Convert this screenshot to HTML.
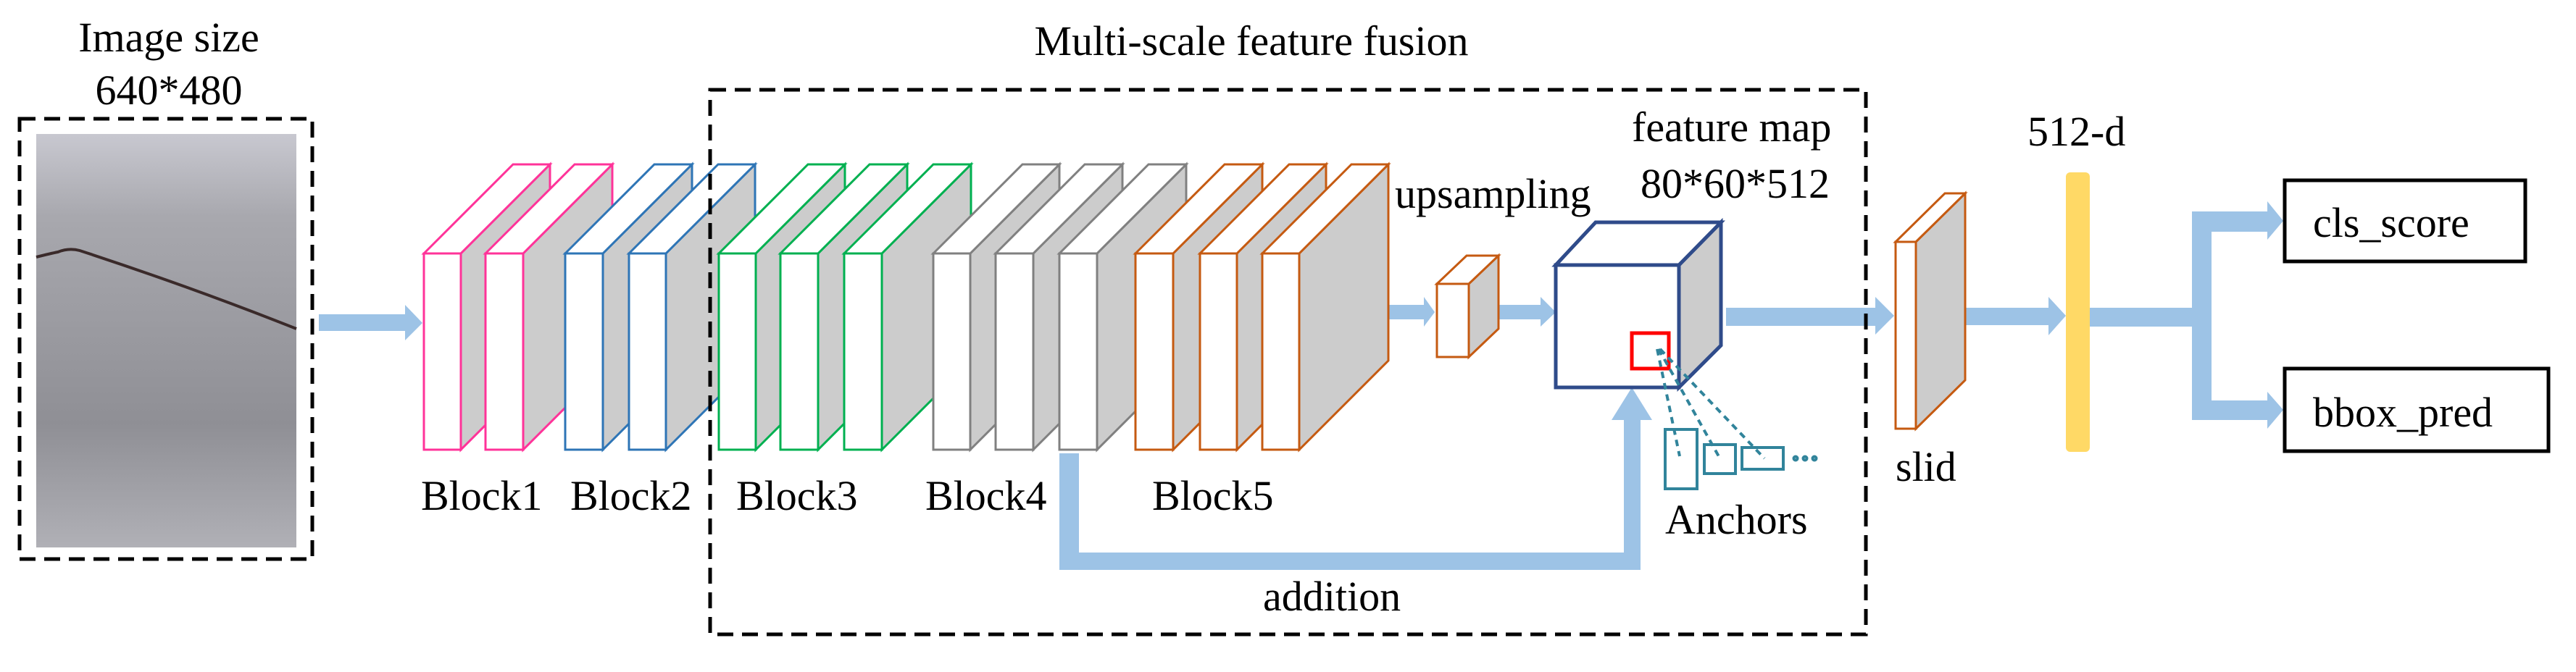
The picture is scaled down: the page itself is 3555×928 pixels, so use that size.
<!DOCTYPE html>
<html><head><meta charset="utf-8"><style>html,body{margin:0;padding:0;background:#fff}svg{display:block}svg text{font-family:"Liberation Serif","Times New Roman",serif !important;font-size:58px;fill:#000}</style></head><body>
<svg width="3555" height="928" viewBox="0 0 3555 928" xmlns="http://www.w3.org/2000/svg" font-family="Liberation Serif, Times New Roman, serif">
<defs>
<linearGradient id="g" x1="0" y1="0" x2="0" y2="1">
<stop offset="0" stop-color="#c8c8d0"/><stop offset="0.2" stop-color="#a8a8ae"/><stop offset="0.7" stop-color="#8f8f95"/><stop offset="1" stop-color="#b0b0b6"/></linearGradient>
</defs>
<rect x="27" y="164" width="404" height="608" fill="none" stroke="#000" stroke-width="5" stroke-dasharray="22,12"/>
<rect x="50" y="185" width="359" height="571" fill="url(#g)"/>
<path d="M50 355 Q70 350 80 348 Q95 342 110 346 Q260 395 409 454" fill="none" stroke="#3a2a2a" stroke-width="4"/>
<g fill="#9DC3E6">
<polygon points="440,434 559,434 559,421 583,446 559,470 559,457 440,457"/>
<polygon points="1915,421 1965,421 1965,410 1980,431 1965,451 1965,441 1915,441"/>
<polygon points="2068,421 2126,421 2126,410 2147,431 2126,451 2126,441 2068,441"/>
<polygon points="2382,425 2588,425 2588,410 2614,436 2588,462 2588,450 2382,450"/>
<polygon points="2708,425 2827,425 2827,410 2851,436 2827,463 2827,449 2708,449"/>
<polygon points="2884,425 3025,425 3025,292 3129,292 3129,278 3151,305 3129,331 3129,320 3052,320 3052,553 3129,553 3129,541 3151,566 3129,592 3129,580 3025,580 3025,451 2884,451"/>
<polygon points="1462,626 1489,626 1489,763 2241,763 2241,580 2224,580 2252,535 2280,580 2264,580 2264,787 1462,787"/>
</g>
<g stroke-width="3">
<g stroke="#FF3399"><polygon points="636,350 759,227 759,498 636,621" fill="#ccc"/><polygon points="585,350 708,227 759,227 636,350" fill="#fff"/><rect x="585" y="350" width="51" height="271" fill="#fff"/></g>
<g stroke="#FF3399"><polygon points="722,350 845,227 845,498 722,621" fill="#ccc"/><polygon points="670,350 793,227 845,227 722,350" fill="#fff"/><rect x="670" y="350" width="52" height="271" fill="#fff"/></g>
<g stroke="#2E75B6"><polygon points="832,350 955,227 955,498 832,621" fill="#ccc"/><polygon points="780,350 903,227 955,227 832,350" fill="#fff"/><rect x="780" y="350" width="52" height="271" fill="#fff"/></g>
<g stroke="#2E75B6"><polygon points="919,350 1042,227 1042,498 919,621" fill="#ccc"/><polygon points="868,350 991,227 1042,227 919,350" fill="#fff"/><rect x="868" y="350" width="51" height="271" fill="#fff"/></g>
<g stroke="#00B050"><polygon points="1043,350 1166,227 1166,498 1043,621" fill="#ccc"/><polygon points="992,350 1115,227 1166,227 1043,350" fill="#fff"/><rect x="992" y="350" width="51" height="271" fill="#fff"/></g>
<g stroke="#00B050"><polygon points="1129,350 1252,227 1252,498 1129,621" fill="#ccc"/><polygon points="1077,350 1200,227 1252,227 1129,350" fill="#fff"/><rect x="1077" y="350" width="52" height="271" fill="#fff"/></g>
<g stroke="#00B050"><polygon points="1217,350 1340,227 1340,498 1217,621" fill="#ccc"/><polygon points="1165,350 1288,227 1340,227 1217,350" fill="#fff"/><rect x="1165" y="350" width="52" height="271" fill="#fff"/></g>
<g stroke="#808080"><polygon points="1339,350 1462,227 1462,498 1339,621" fill="#ccc"/><polygon points="1288,350 1411,227 1462,227 1339,350" fill="#fff"/><rect x="1288" y="350" width="51" height="271" fill="#fff"/></g>
<g stroke="#808080"><polygon points="1426,350 1549,227 1549,498 1426,621" fill="#ccc"/><polygon points="1374,350 1497,227 1549,227 1426,350" fill="#fff"/><rect x="1374" y="350" width="52" height="271" fill="#fff"/></g>
<g stroke="#808080"><polygon points="1514,350 1637,227 1637,498 1514,621" fill="#ccc"/><polygon points="1462,350 1585,227 1637,227 1514,350" fill="#fff"/><rect x="1462" y="350" width="52" height="271" fill="#fff"/></g>
<g stroke="#C55A11"><polygon points="1619,350 1742,227 1742,498 1619,621" fill="#ccc"/><polygon points="1567,350 1690,227 1742,227 1619,350" fill="#fff"/><rect x="1567" y="350" width="52" height="271" fill="#fff"/></g>
<g stroke="#C55A11"><polygon points="1707,350 1830,227 1830,498 1707,621" fill="#ccc"/><polygon points="1656,350 1779,227 1830,227 1707,350" fill="#fff"/><rect x="1656" y="350" width="51" height="271" fill="#fff"/></g>
<g stroke="#C55A11"><polygon points="1793,350 1916,227 1916,498 1793,621" fill="#ccc"/><polygon points="1742,350 1865,227 1916,227 1793,350" fill="#fff"/><rect x="1742" y="350" width="51" height="271" fill="#fff"/></g>
<g stroke="#C55A11"><polygon points="2027,392 2068,353 2068,454 2027,493" fill="#ccc"/><polygon points="1983,392 2024,353 2068,353 2027,392" fill="#fff"/><rect x="1983" y="392" width="44" height="101" fill="#fff"/></g>
<g stroke="#C55A11"><polygon points="2644,334 2712,267 2712,525 2644,592" fill="#ccc"/><polygon points="2616,334 2684,267 2712,267 2644,334" fill="#fff"/><rect x="2616" y="334" width="28" height="258" fill="#fff"/></g>
</g>
<g stroke="#2F4B8A" stroke-width="5">
<polygon points="2317,366 2375,307 2375,477 2317,535" fill="#ccc"/>
<polygon points="2147,366 2202,307 2375,307 2317,366" fill="#fff"/>
<rect x="2147" y="366" width="170" height="169" fill="#fff"/>
</g>
<rect x="2252" y="460" width="51" height="49" fill="none" stroke="#FF0000" stroke-width="5"/>
<g stroke="#31849B" stroke-width="4" fill="none">
<line x1="2287" y1="482" x2="2318" y2="630" stroke-dasharray="9,7"/>
<line x1="2289" y1="482" x2="2373" y2="632" stroke-dasharray="9,7"/>
<line x1="2291" y1="482" x2="2435" y2="633" stroke-dasharray="9,7"/>
<rect x="2298" y="593" width="44" height="82"/>
<rect x="2352" y="614" width="43" height="40"/>
<rect x="2404" y="618" width="57" height="30"/>
<circle cx="2478" cy="633" r="2.5"/><circle cx="2491" cy="633" r="2.5"/><circle cx="2504" cy="633" r="2.5"/>
</g>
<rect x="2851" y="238" width="33" height="386" rx="6" fill="#FFD966"/>
<rect x="3153" y="249" width="332" height="112" fill="#fff" stroke="#000" stroke-width="5"/>
<rect x="3153" y="509" width="364" height="114" fill="#fff" stroke="#000" stroke-width="5"/>
<rect x="980" y="124" width="1595" height="752" fill="none" stroke="#000" stroke-width="5" stroke-dasharray="22,12"/>
<g font-family="Liberation Serif, Times New Roman, serif" font-size="58">
<text font-family="Liberation Serif, serif" x="233" y="71" text-anchor="middle">Image size</text>
<text font-family="Liberation Serif, serif" x="233" y="144" text-anchor="middle">640*480</text>
<text font-family="Liberation Serif, serif" x="1727" y="76" text-anchor="middle">Multi-scale feature fusion</text>
<text font-family="Liberation Serif, serif" x="581" y="704">Block1</text>
<text font-family="Liberation Serif, serif" x="787" y="704">Block2</text>
<text font-family="Liberation Serif, serif" x="1016" y="704">Block3</text>
<text font-family="Liberation Serif, serif" x="1277" y="704">Block4</text>
<text font-family="Liberation Serif, serif" x="1590" y="704">Block5</text>
<text font-family="Liberation Serif, serif" x="1925" y="287">upsampling</text>
<text font-family="Liberation Serif, serif" x="2252" y="195">feature map</text>
<text font-family="Liberation Serif, serif" x="2264" y="273">80*60*512</text>
<text font-family="Liberation Serif, serif" x="2298" y="737">Anchors</text>
<text font-family="Liberation Serif, serif" x="1743" y="843">addition</text>
<text font-family="Liberation Serif, serif" x="2616" y="664">slid</text>
<text font-family="Liberation Serif, serif" x="2798" y="201">512-d</text>
<text font-family="Liberation Serif, serif" x="3192" y="327">cls_score</text>
<text font-family="Liberation Serif, serif" x="3192" y="589">bbox_pred</text>
</g>
</svg>
</body></html>
